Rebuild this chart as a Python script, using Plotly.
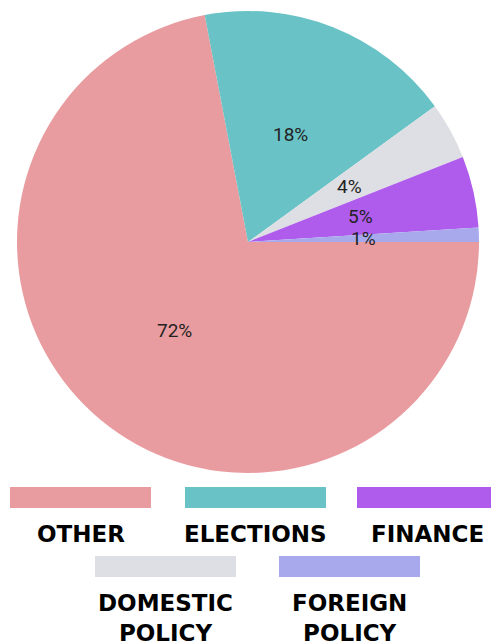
import math
import plotly.graph_objects as go

W, H = 491, 641

# Data (order as drawn clockwise from 3 o'clock)
categories = ["OTHER", "ELECTIONS", "DOMESTIC POLICY", "FINANCE", "FOREIGN POLICY"]
values = [72, 18, 4, 5, 1]
colors = ["#E99C9F", "#69C2C5", "#DEDFE4", "#AF5BEC", "#A8A9EC"]
pct_labels = ["72%", "18%", "4%", "5%", "1%"]

# Legend order
legend_order = ["OTHER", "ELECTIONS", "FINANCE", "DOMESTIC POLICY", "FOREIGN POLICY"]
legend_text = ["OTHER", "ELECTIONS", "FINANCE", "DOMESTIC<br>POLICY", "FOREIGN<br>POLICY"]

# Pie geometry (pixels)
cx_px, cy_px, r_px = 248, 242, 231
dom_x = [(cx_px - r_px) / W, (cx_px + r_px) / W]
dom_y = [1 - (cy_px + r_px) / H, 1 - (cy_px - r_px) / H]

fig = go.Figure(go.Pie(
    labels=categories,
    values=values,
    marker=dict(colors=colors, line=dict(width=0)),
    sort=False,
    direction="clockwise",
    rotation=90,
    textinfo="none",
    hoverinfo="label+percent",
    showlegend=False,
    domain=dict(x=dom_x, y=dom_y),
))

# Percentage labels at half radius on slice bisectors
total = sum(values)
start = 90.0
annotations = []
for v, lab in zip(values, pct_labels):
    span = v / total * 360
    mid = math.radians(start + span / 2)
    start += span
    x_px = cx_px + 0.5 * r_px * math.sin(mid)
    y_px = cy_px - 0.5 * r_px * math.cos(mid)
    annotations.append(dict(
        x=x_px / W, y=1 - y_px / H, xref="paper", yref="paper",
        text=lab, showarrow=False,
        font=dict(family="Roboto", size=19, color="#222222"),
        xanchor="center", yanchor="middle",
    ))

# Custom legend: wide swatches with bold labels beneath
legend_pos = [(10, 487), (185, 487), (357, 487), (95, 556), (279, 556)]
sw_w, sw_h = 141, 21
shapes = []
col_map = dict(zip(categories, colors))
for name, txt, (x0, y0) in zip(legend_order, legend_text, legend_pos):
    shapes.append(dict(
        type="rect", xref="paper", yref="paper",
        x0=x0 / W, x1=(x0 + sw_w) / W,
        y0=1 - (y0 + sw_h) / H, y1=1 - y0 / H,
        fillcolor=col_map[name], line=dict(width=0),
    ))
    annotations.append(dict(
        x=(x0 + sw_w / 2) / W, y=1 - (y0 + sw_h + 11) / H,
        xref="paper", yref="paper", text=txt, showarrow=False,
        xanchor="center", yanchor="top", align="center",
        font=dict(family="DejaVu Sans", size=23, color="#000000", weight="bold"),
    ))

fig.update_layout(
    width=W, height=H,
    margin=dict(l=0, r=0, t=0, b=0),
    paper_bgcolor="white", plot_bgcolor="white",
    annotations=annotations, shapes=shapes,
)

fig.write_html(
    "out.html",
    config={"displayModeBar": False},
    post_script="document.body.style.margin='0';document.body.style.overflow='hidden';",
)
